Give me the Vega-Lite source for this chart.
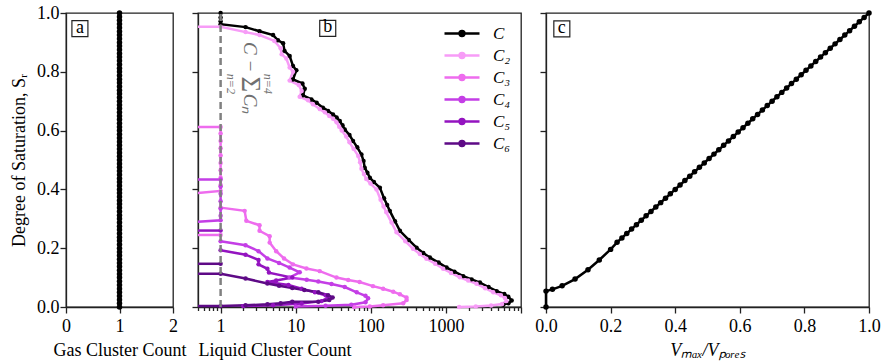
{
  "$schema": "https://vega.github.io/schema/vega-lite/v6.json",
  "padding": {"left": 9, "top": 3, "right": 0, "bottom": 3},
  "bounds": "flush",
  "resolve": {"legend": {"color": "independent"}},
  "config": {
    "font": "Liberation Serif",
    "view": {"stroke": "#222", "strokeWidth": 1.3},
    "concat": {"spacing": 25},
    "axis": {"grid": false, "domainColor": "#222", "domainWidth": 1.3, "tickColor": "#222", "tickWidth": 1.3, "tickSize": 6,
      "labelFont": "Liberation Serif", "labelFontSize": 18, "labelColor": "#000", "labelFlush": false, "labelOverlap": false, "labelBound": false,
      "titleFont": "Liberation Serif", "titleFontSize": 18, "titleFontWeight": "normal", "titleColor": "#000"}
  },
  "datasets": {
    "sa": [{"n":1,"y":0},{"n":1,"y":0.0125},{"n":1,"y":0.025},{"n":1,"y":0.0375},{"n":1,"y":0.05},{"n":1,"y":0.0625},{"n":1,"y":0.075},{"n":1,"y":0.0875},{"n":1,"y":0.1},{"n":1,"y":0.1125},{"n":1,"y":0.125},{"n":1,"y":0.1375},{"n":1,"y":0.15},{"n":1,"y":0.1625},{"n":1,"y":0.175},{"n":1,"y":0.1875},{"n":1,"y":0.2},{"n":1,"y":0.2125},{"n":1,"y":0.225},{"n":1,"y":0.2375},{"n":1,"y":0.25},{"n":1,"y":0.2625},{"n":1,"y":0.275},{"n":1,"y":0.2875},{"n":1,"y":0.3},{"n":1,"y":0.3125},{"n":1,"y":0.325},{"n":1,"y":0.3375},{"n":1,"y":0.35},{"n":1,"y":0.3625},{"n":1,"y":0.375},{"n":1,"y":0.3875},{"n":1,"y":0.4},{"n":1,"y":0.4125},{"n":1,"y":0.425},{"n":1,"y":0.4375},{"n":1,"y":0.45},{"n":1,"y":0.4625},{"n":1,"y":0.475},{"n":1,"y":0.4875},{"n":1,"y":0.5},{"n":1,"y":0.5125},{"n":1,"y":0.525},{"n":1,"y":0.5375},{"n":1,"y":0.55},{"n":1,"y":0.5625},{"n":1,"y":0.575},{"n":1,"y":0.5875},{"n":1,"y":0.6},{"n":1,"y":0.6125},{"n":1,"y":0.625},{"n":1,"y":0.6375},{"n":1,"y":0.65},{"n":1,"y":0.6625},{"n":1,"y":0.675},{"n":1,"y":0.6875},{"n":1,"y":0.7},{"n":1,"y":0.7125},{"n":1,"y":0.725},{"n":1,"y":0.7375},{"n":1,"y":0.75},{"n":1,"y":0.7625},{"n":1,"y":0.775},{"n":1,"y":0.7875},{"n":1,"y":0.8},{"n":1,"y":0.8125},{"n":1,"y":0.825},{"n":1,"y":0.8375},{"n":1,"y":0.85},{"n":1,"y":0.8625},{"n":1,"y":0.875},{"n":1,"y":0.8875},{"n":1,"y":0.9},{"n":1,"y":0.9125},{"n":1,"y":0.925},{"n":1,"y":0.9375},{"n":1,"y":0.95},{"n":1,"y":0.9625},{"n":1,"y":0.975},{"n":1,"y":0.9875},{"n":1,"y":1}],
    "sc": [{"v":0,"y":0},{"v":0,"y":0.054},{"v":0.02,"y":0.06},{"v":0.05,"y":0.072},{"v":0.09,"y":0.095},{"v":0.13,"y":0.127},{"v":0.165,"y":0.16},{"v":0.2,"y":0.196},{"v":0.22,"y":0.22},{"v":0.235,"y":0.235},{"v":0.25,"y":0.25},{"v":0.265,"y":0.265},{"v":0.28,"y":0.28},{"v":0.295,"y":0.295},{"v":0.31,"y":0.31},{"v":0.325,"y":0.325},{"v":0.34,"y":0.34},{"v":0.355,"y":0.355},{"v":0.37,"y":0.37},{"v":0.385,"y":0.385},{"v":0.4,"y":0.4},{"v":0.415,"y":0.415},{"v":0.43,"y":0.43},{"v":0.445,"y":0.445},{"v":0.46,"y":0.46},{"v":0.475,"y":0.475},{"v":0.49,"y":0.49},{"v":0.505,"y":0.505},{"v":0.52,"y":0.52},{"v":0.535,"y":0.535},{"v":0.55,"y":0.55},{"v":0.565,"y":0.565},{"v":0.58,"y":0.58},{"v":0.595,"y":0.595},{"v":0.61,"y":0.61},{"v":0.625,"y":0.625},{"v":0.64,"y":0.64},{"v":0.655,"y":0.655},{"v":0.67,"y":0.67},{"v":0.685,"y":0.685},{"v":0.7,"y":0.7},{"v":0.715,"y":0.715},{"v":0.73,"y":0.73},{"v":0.745,"y":0.745},{"v":0.76,"y":0.76},{"v":0.775,"y":0.775},{"v":0.79,"y":0.79},{"v":0.805,"y":0.805},{"v":0.82,"y":0.82},{"v":0.835,"y":0.835},{"v":0.85,"y":0.85},{"v":0.865,"y":0.865},{"v":0.88,"y":0.88},{"v":0.895,"y":0.895},{"v":0.91,"y":0.91},{"v":0.925,"y":0.925},{"v":0.94,"y":0.94},{"v":0.955,"y":0.955},{"v":0.97,"y":0.97},{"v":0.985,"y":0.985},{"v":1,"y":1}],
    "sb": [
      {"s":"C","g":"C","o":1,"x":1,"y":1},{"s":"C","g":"C","o":2,"x":1,"y":0.985},{"s":"C","g":"C","o":3,"x":1,"y":0.972},{"s":"C","g":"C","o":4,"x":1,"y":0.962},{"s":"C","g":"C","o":5,"x":2.15,"y":0.952},{"s":"C","g":"C","o":6,"x":3.3,"y":0.938},{"s":"C","g":"C","o":7,"x":5,"y":0.925},{"s":"C","g":"C","o":8,"x":5.8,"y":0.907},{"s":"C","g":"C","o":9,"x":6.8,"y":0.897},{"s":"C","g":"C","o":10,"x":7.1,"y":0.871},{"s":"C","g":"C","o":11,"x":8.3,"y":0.854},{"s":"C","g":"C","o":12,"x":9.2,"y":0.82},{"s":"C","g":"C","o":13,"x":10.2,"y":0.805},{"s":"C","g":"C","o":14,"x":9.2,"y":0.774},{"s":"C","g":"C","o":15,"x":12.3,"y":0.76},{"s":"C","g":"C","o":16,"x":13.2,"y":0.742},{"s":"C","g":"C","o":17,"x":12.5,"y":0.72},{"s":"C","g":"C","o":18,"x":16.2,"y":0.706},{"s":"C","g":"C","o":19,"x":19,"y":0.695},{"s":"C","g":"C","o":20,"x":23,"y":0.678},{"s":"C","g":"C","o":21,"x":27,"y":0.667},{"s":"C","g":"C","o":22,"x":31.4,"y":0.655},{"s":"C","g":"C","o":23,"x":35,"y":0.645},{"s":"C","g":"C","o":24,"x":38.6,"y":0.633},{"s":"C","g":"C","o":25,"x":42,"y":0.618},{"s":"C","g":"C","o":26,"x":45,"y":0.604},{"s":"C","g":"C","o":27,"x":52,"y":0.585},{"s":"C","g":"C","o":28,"x":58,"y":0.565},{"s":"C","g":"C","o":29,"x":66,"y":0.543},{"s":"C","g":"C","o":30,"x":75,"y":0.519},{"s":"C","g":"C","o":31,"x":80,"y":0.497},{"s":"C","g":"C","o":32,"x":83,"y":0.474},{"s":"C","g":"C","o":33,"x":90,"y":0.457},{"s":"C","g":"C","o":34,"x":97,"y":0.44},{"s":"C","g":"C","o":35,"x":110,"y":0.425},{"s":"C","g":"C","o":36,"x":132,"y":0.406},{"s":"C","g":"C","o":37,"x":150,"y":0.37},{"s":"C","g":"C","o":38,"x":165,"y":0.347},{"s":"C","g":"C","o":39,"x":179,"y":0.327},{"s":"C","g":"C","o":40,"x":210,"y":0.292},{"s":"C","g":"C","o":41,"x":244,"y":0.259},{"s":"C","g":"C","o":42,"x":320,"y":0.228},{"s":"C","g":"C","o":43,"x":406,"y":0.202},{"s":"C","g":"C","o":44,"x":500,"y":0.184},{"s":"C","g":"C","o":45,"x":612,"y":0.168},{"s":"C","g":"C","o":46,"x":800,"y":0.151},{"s":"C","g":"C","o":47,"x":1020,"y":0.134},{"s":"C","g":"C","o":48,"x":1300,"y":0.12},{"s":"C","g":"C","o":49,"x":1700,"y":0.105},{"s":"C","g":"C","o":50,"x":2200,"y":0.094},{"s":"C","g":"C","o":51,"x":2840,"y":0.083},{"s":"C","g":"C","o":52,"x":3700,"y":0.068},{"s":"C","g":"C","o":53,"x":4740,"y":0.054},{"s":"C","g":"C","o":54,"x":6000,"y":0.044},{"s":"C","g":"C","o":55,"x":6780,"y":0.035},{"s":"C","g":"C","o":56,"x":7510,"y":0.022},{"s":"C","g":"C","o":57,"x":6800,"y":0.013},{"s":"C","g":"C","o":58,"x":5800,"y":0.008},
      {"s":"C₂","g":"C2","o":101,"x":0.5,"y":0.953},{"s":"C₂","g":"C2","o":102,"x":1,"y":0.953},{"s":"C₂","g":"C2","o":103,"x":2.15,"y":0.935},{"s":"C₂","g":"C2","o":104,"x":3.3,"y":0.925},{"s":"C₂","g":"C2","o":105,"x":5.2,"y":0.905},{"s":"C₂","g":"C2","o":106,"x":6.3,"y":0.88},{"s":"C₂","g":"C2","o":107,"x":6.5,"y":0.86},{"s":"C₂","g":"C2","o":108,"x":7.5,"y":0.845},{"s":"C₂","g":"C2","o":109,"x":8.3,"y":0.815},{"s":"C₂","g":"C2","o":110,"x":9.2,"y":0.8},{"s":"C₂","g":"C2","o":111,"x":8.3,"y":0.77},{"s":"C₂","g":"C2","o":112,"x":11,"y":0.755},{"s":"C₂","g":"C2","o":113,"x":12,"y":0.735},{"s":"C₂","g":"C2","o":114,"x":11.3,"y":0.715},{"s":"C₂","g":"C2","o":115,"x":14.6,"y":0.703},{"s":"C₂","g":"C2","o":116,"x":17,"y":0.69},{"s":"C₂","g":"C2","o":117,"x":21,"y":0.673},{"s":"C₂","g":"C2","o":118,"x":24.5,"y":0.662},{"s":"C₂","g":"C2","o":119,"x":28,"y":0.65},{"s":"C₂","g":"C2","o":120,"x":31.5,"y":0.64},{"s":"C₂","g":"C2","o":121,"x":35,"y":0.628},{"s":"C₂","g":"C2","o":122,"x":38,"y":0.613},{"s":"C₂","g":"C2","o":123,"x":41,"y":0.6},{"s":"C₂","g":"C2","o":124,"x":47,"y":0.58},{"s":"C₂","g":"C2","o":125,"x":52,"y":0.56},{"s":"C₂","g":"C2","o":126,"x":59,"y":0.538},{"s":"C₂","g":"C2","o":127,"x":68,"y":0.514},{"s":"C₂","g":"C2","o":128,"x":72,"y":0.492},{"s":"C₂","g":"C2","o":129,"x":75,"y":0.47},{"s":"C₂","g":"C2","o":130,"x":81,"y":0.452},{"s":"C₂","g":"C2","o":131,"x":87,"y":0.435},{"s":"C₂","g":"C2","o":132,"x":99,"y":0.42},{"s":"C₂","g":"C2","o":133,"x":119,"y":0.4},{"s":"C₂","g":"C2","o":134,"x":135,"y":0.365},{"s":"C₂","g":"C2","o":135,"x":148,"y":0.342},{"s":"C₂","g":"C2","o":136,"x":161,"y":0.322},{"s":"C₂","g":"C2","o":137,"x":189,"y":0.287},{"s":"C₂","g":"C2","o":138,"x":220,"y":0.254},{"s":"C₂","g":"C2","o":139,"x":288,"y":0.224},{"s":"C₂","g":"C2","o":140,"x":365,"y":0.198},{"s":"C₂","g":"C2","o":141,"x":450,"y":0.18},{"s":"C₂","g":"C2","o":142,"x":550,"y":0.164},{"s":"C₂","g":"C2","o":143,"x":720,"y":0.147},{"s":"C₂","g":"C2","o":144,"x":920,"y":0.13},{"s":"C₂","g":"C2","o":145,"x":1170,"y":0.116},{"s":"C₂","g":"C2","o":146,"x":1530,"y":0.101},{"s":"C₂","g":"C2","o":147,"x":1980,"y":0.09},{"s":"C₂","g":"C2","o":148,"x":2560,"y":0.079},{"s":"C₂","g":"C2","o":149,"x":3330,"y":0.064},{"s":"C₂","g":"C2","o":150,"x":4270,"y":0.05},{"s":"C₂","g":"C2","o":151,"x":5400,"y":0.04},{"s":"C₂","g":"C2","o":152,"x":6100,"y":0.031},{"s":"C₂","g":"C2","o":153,"x":6400,"y":0.02},{"s":"C₂","g":"C2","o":154,"x":5600,"y":0.01},{"s":"C₂","g":"C2","o":155,"x":4000,"y":0.005},{"s":"C₂","g":"C2","o":156,"x":2500,"y":0.002},{"s":"C₂","g":"C2","o":157,"x":1500,"y":0},
      {"s":"C₃","g":"C3a","o":201,"x":0.5,"y":0.612},{"s":"C₃","g":"C3a","o":202,"x":1,"y":0.612},{"s":"C₃","g":"C3a","o":203,"x":1,"y":0.59},{"s":"C₃","g":"C3a","o":204,"x":1,"y":0.565},{"s":"C₃","g":"C3a","o":205,"x":1,"y":0.54},{"s":"C₃","g":"C3a","o":206,"x":1,"y":0.515},{"s":"C₃","g":"C3a","o":207,"x":1,"y":0.49},{"s":"C₃","g":"C3a","o":208,"x":1,"y":0.465},{"s":"C₃","g":"C3a","o":209,"x":1,"y":0.44},{"s":"C₃","g":"C3a","o":210,"x":1,"y":0.415},{"s":"C₃","g":"C3a","o":211,"x":1,"y":0.395},{"s":"C₃","g":"C3a","o":212,"x":0.5,"y":0.388},
      {"s":"C₃","g":"C3b","o":213,"x":0.5,"y":0.245},{"s":"C₃","g":"C3b","o":214,"x":1,"y":0.245},
      {"s":"C₃","g":"C3c","o":215,"x":1,"y":0.338},{"s":"C₃","g":"C3c","o":216,"x":2.09,"y":0.327},{"s":"C₃","g":"C3c","o":217,"x":2.2,"y":0.293},{"s":"C₃","g":"C3c","o":218,"x":3.3,"y":0.278},{"s":"C₃","g":"C3c","o":219,"x":3.3,"y":0.259},{"s":"C₃","g":"C3c","o":220,"x":4.5,"y":0.241},{"s":"C₃","g":"C3c","o":221,"x":4.5,"y":0.219},{"s":"C₃","g":"C3c","o":222,"x":5.5,"y":0.19},{"s":"C₃","g":"C3c","o":223,"x":7,"y":0.165},{"s":"C₃","g":"C3c","o":224,"x":9.2,"y":0.145},{"s":"C₃","g":"C3c","o":225,"x":13.9,"y":0.131},{"s":"C₃","g":"C3c","o":226,"x":20.9,"y":0.122},{"s":"C₃","g":"C3c","o":227,"x":34.9,"y":0.1},{"s":"C₃","g":"C3c","o":228,"x":50,"y":0.092},{"s":"C₃","g":"C3c","o":229,"x":71,"y":0.085},{"s":"C₃","g":"C3c","o":230,"x":107,"y":0.071},{"s":"C₃","g":"C3c","o":231,"x":146,"y":0.062},{"s":"C₃","g":"C3c","o":232,"x":199,"y":0.052},{"s":"C₃","g":"C3c","o":233,"x":244,"y":0.043},{"s":"C₃","g":"C3c","o":234,"x":299,"y":0.032},{"s":"C₃","g":"C3c","o":235,"x":300,"y":0.024},{"s":"C₃","g":"C3c","o":236,"x":270,"y":0.013},{"s":"C₃","g":"C3c","o":237,"x":146,"y":0.006},{"s":"C₃","g":"C3c","o":238,"x":97,"y":0.002},{"s":"C₃","g":"C3c","o":239,"x":60,"y":0},
      {"s":"C₄","g":"C4a","o":301,"x":0.5,"y":0.434},{"s":"C₄","g":"C4a","o":302,"x":1,"y":0.434},{"s":"C₄","g":"C4a","o":303,"x":1,"y":0.41},{"s":"C₄","g":"C4a","o":304,"x":1,"y":0.385},{"s":"C₄","g":"C4a","o":305,"x":1,"y":0.36},{"s":"C₄","g":"C4a","o":306,"x":1,"y":0.335},{"s":"C₄","g":"C4a","o":307,"x":1,"y":0.31},{"s":"C₄","g":"C4a","o":308,"x":1,"y":0.295},{"s":"C₄","g":"C4a","o":309,"x":0.5,"y":0.29},
      {"s":"C₄","g":"C4b","o":310,"x":1,"y":0.224},{"s":"C₄","g":"C4b","o":311,"x":2.15,"y":0.21},{"s":"C₄","g":"C4b","o":312,"x":3.2,"y":0.19},{"s":"C₄","g":"C4b","o":313,"x":4.2,"y":0.165},{"s":"C₄","g":"C4b","o":314,"x":6,"y":0.15},{"s":"C₄","g":"C4b","o":315,"x":8.3,"y":0.134},{"s":"C₄","g":"C4b","o":316,"x":11.3,"y":0.118},{"s":"C₄","g":"C4b","o":317,"x":8.3,"y":0.1},{"s":"C₄","g":"C4b","o":318,"x":14,"y":0.093},{"s":"C₄","g":"C4b","o":319,"x":20,"y":0.087},{"s":"C₄","g":"C4b","o":320,"x":30,"y":0.078},{"s":"C₄","g":"C4b","o":321,"x":45,"y":0.068},{"s":"C₄","g":"C4b","o":322,"x":65,"y":0.05},{"s":"C₄","g":"C4b","o":323,"x":85,"y":0.038},{"s":"C₄","g":"C4b","o":324,"x":92,"y":0.03},{"s":"C₄","g":"C4b","o":325,"x":85,"y":0.016},{"s":"C₄","g":"C4b","o":326,"x":55,"y":0.008},{"s":"C₄","g":"C4b","o":327,"x":25,"y":0.004},{"s":"C₄","g":"C4b","o":328,"x":10,"y":0.002},
      {"s":"C₅","g":"C5a","o":401,"x":0.5,"y":0.26},{"s":"C₅","g":"C5a","o":402,"x":1,"y":0.26},
      {"s":"C₅","g":"C5b","o":403,"x":1,"y":0.193},{"s":"C₅","g":"C5b","o":404,"x":2.15,"y":0.178},{"s":"C₅","g":"C5b","o":405,"x":3.2,"y":0.16},{"s":"C₅","g":"C5b","o":406,"x":3.2,"y":0.145},{"s":"C₅","g":"C5b","o":407,"x":4.2,"y":0.13},{"s":"C₅","g":"C5b","o":408,"x":4.4,"y":0.117},{"s":"C₅","g":"C5b","o":409,"x":9,"y":0.1},{"s":"C₅","g":"C5b","o":410,"x":5.5,"y":0.09},{"s":"C₅","g":"C5b","o":411,"x":4.2,"y":0.085},{"s":"C₅","g":"C5b","o":412,"x":8,"y":0.075},{"s":"C₅","g":"C5b","o":413,"x":12,"y":0.062},{"s":"C₅","g":"C5b","o":414,"x":18,"y":0.05},{"s":"C₅","g":"C5b","o":415,"x":25,"y":0.04},{"s":"C₅","g":"C5b","o":416,"x":27,"y":0.032},{"s":"C₅","g":"C5b","o":417,"x":22,"y":0.02},{"s":"C₅","g":"C5b","o":418,"x":12,"y":0.012},{"s":"C₅","g":"C5b","o":419,"x":5,"y":0.006},{"s":"C₅","g":"C5b","o":420,"x":2,"y":0.003},
      {"s":"C₆","g":"C6a","o":501,"x":0.5,"y":0.147},{"s":"C₆","g":"C6a","o":502,"x":1,"y":0.147},
      {"s":"C₆","g":"C6b","o":503,"x":0.5,"y":0.113},{"s":"C₆","g":"C6b","o":504,"x":1,"y":0.113},{"s":"C₆","g":"C6b","o":505,"x":2.15,"y":0.097},{"s":"C₆","g":"C6b","o":506,"x":4.2,"y":0.08},{"s":"C₆","g":"C6b","o":507,"x":6,"y":0.072},{"s":"C₆","g":"C6b","o":508,"x":9,"y":0.065},{"s":"C₆","g":"C6b","o":509,"x":13,"y":0.058},{"s":"C₆","g":"C6b","o":510,"x":20,"y":0.05},{"s":"C₆","g":"C6b","o":511,"x":27,"y":0.04},{"s":"C₆","g":"C6b","o":512,"x":31,"y":0.032},{"s":"C₆","g":"C6b","o":513,"x":28,"y":0.024},{"s":"C₆","g":"C6b","o":514,"x":20,"y":0.018},{"s":"C₆","g":"C6b","o":515,"x":9,"y":0.018},{"s":"C₆","g":"C6b","o":516,"x":6.3,"y":0.013},{"s":"C₆","g":"C6b","o":517,"x":4.2,"y":0.009},{"s":"C₆","g":"C6b","o":518,"x":2.15,"y":0.006},{"s":"C₆","g":"C6b","o":519,"x":1,"y":0.003},{"s":"C₆","g":"C6b","o":520,"x":0.5,"y":0.003}
    ]
  },
  "hconcat": [
    {
      "width": 107, "height": 294,
      "layer": [
        {"data": {"name": "sa"}, "mark": {"type": "line", "color": "#000", "strokeWidth": 2.5},
         "encoding": {
           "x": {"field": "n", "type": "quantitative", "scale": {"domain": [0, 2], "nice": false}, "axis": {"values": [0, 1, 2], "labelExpr": "format(datum.value, 'd')", "labelOverlap": false, "title": "Gas Cluster Count", "labelPadding": 4, "titlePadding": 6}},
           "y": {"field": "y", "type": "quantitative", "scale": {"domain": [0, 1], "nice": false}, "axis": {"values": [0, 0.2, 0.4, 0.6, 0.8, 1], "format": ".1f", "title": "Degree of Saturation, Sᵣ", "labelPadding": 1, "titlePadding": 8}},
           "order": {"field": "y"}}},
        {"data": {"name": "sa"}, "mark": {"type": "point", "filled": true, "color": "#000", "size": 30, "opacity": 1},
         "encoding": {"x": {"field": "n", "type": "quantitative"}, "y": {"field": "y", "type": "quantitative"}}},
        {"data": {"values": [{}]}, "mark": {"type": "point", "shape": "square", "filled": true, "fill": "#fff", "stroke": "#222", "strokeWidth": 1.2, "size": 256, "opacity": 1},
         "encoding": {"x": {"datum": 0.26, "type": "quantitative"}, "y": {"datum": 0.947, "type": "quantitative"}}},
        {"data": {"values": [{}]}, "mark": {"type": "text", "text": "a", "fontSize": 18, "font": "Liberation Serif", "baseline": "middle", "align": "center", "dy": -1},
         "encoding": {"x": {"datum": 0.26, "type": "quantitative"}, "y": {"datum": 0.947, "type": "quantitative"}}}
      ]
    },
    {
      "width": 323, "height": 294,
      "layer": [
        {"data": {"name": "sb"}, "mark": {"type": "line", "strokeWidth": 2.5},
         "encoding": {
           "x": {"field": "x", "type": "quantitative", "scale": {"type": "log", "domain": [0.5, 10000], "nice": false},
             "axis": {"values": [0.5,0.6,0.7,0.8,0.9,1,2,3,4,5,6,7,8,9,10,20,30,40,50,60,70,80,90,100,200,300,400,500,600,700,800,900,1000,2000,3000,4000,5000,6000,7000,8000,9000,10000],
               "labelExpr": "datum.value==1||datum.value==10||datum.value==100||datum.value==1000 ? format(datum.value,'d') : ''",
               "tickSize": {"condition": {"test": "datum.value==1||datum.value==10||datum.value==100||datum.value==1000||datum.value==10000", "value": 6}, "value": 3.5},
               "title": "Liquid Cluster Count", "titleAnchor": "start", "labelPadding": 4, "titlePadding": 6}},
           "y": {"field": "y", "type": "quantitative", "scale": {"domain": [0, 1], "nice": false}, "axis": {"values": [0, 0.2, 0.4, 0.6, 0.8, 1], "labels": false, "title": null}},
           "color": {"field": "s", "type": "nominal",
             "scale": {"domain": ["C", "C₂", "C₃", "C₄", "C₅", "C₆"], "range": ["#000000", "#f79cf7", "#ee6cee", "#c43ee6", "#9414c0", "#5e0a86"]},
             "legend": {"orient": "top-right", "offset": 10, "padding": 0, "title": null, "labelFont": "Liberation Serif", "labelFontStyle": "italic", "labelFontSize": 17, "labelOffset": 12,
               "clipHeight": 21, "rowPadding": 1,
               "symbolType": "M-1,0L1,0M-0.14,0A0.14,0.14,0,1,1,0.14,0A0.14,0.14,0,1,1,-0.14,0", "symbolSize": 1225, "symbolStrokeWidth": 2.5}},
           "detail": {"field": "g"},
           "order": {"field": "o"}}},
        {"data": {"name": "sb"}, "transform": [{"filter": "datum.x > 0.5"}], "mark": {"type": "point", "filled": true, "size": 20, "opacity": 1},
         "encoding": {"x": {"field": "x", "type": "quantitative"}, "y": {"field": "y", "type": "quantitative"}, "color": {"field": "s", "type": "nominal"}}},
        {"data": {"values": [{"x": 1, "y": 0}, {"x": 1, "y": 1}]}, "mark": {"type": "line", "color": "#808080", "strokeWidth": 2.5, "strokeDash": [7, 4]},
         "encoding": {"x": {"field": "x", "type": "quantitative"}, "y": {"field": "y", "type": "quantitative"}}},
        {"data": {"values": [{}]}, "mark": {"type": "text", "text": "C −", "fontSize": 19, "fontStyle": "italic", "font": "Liberation Serif", "angle": 90, "align": "center", "baseline": "middle", "color": "#707070"},
         "encoding": {"x": {"datum": 2.44, "type": "quantitative"}, "y": {"datum": 0.85, "type": "quantitative"}}},
        {"data": {"values": [{}]}, "mark": {"type": "text", "text": "Σ", "fontSize": 27, "font": "Liberation Serif", "angle": 90, "align": "center", "baseline": "middle", "color": "#707070"},
         "encoding": {"x": {"datum": 2.44, "type": "quantitative"}, "y": {"datum": 0.757, "type": "quantitative"}}},
        {"data": {"values": [{}]}, "mark": {"type": "text", "text": "Cₙ", "fontSize": 19, "fontStyle": "italic", "font": "Liberation Serif", "angle": 90, "align": "center", "baseline": "middle", "color": "#707070"},
         "encoding": {"x": {"datum": 2.44, "type": "quantitative"}, "y": {"datum": 0.69, "type": "quantitative"}}},
        {"data": {"values": [{}]}, "mark": {"type": "text", "text": "n=4", "fontSize": 12, "fontStyle": "italic", "font": "Liberation Serif", "angle": 90, "align": "center", "baseline": "middle", "color": "#707070"},
         "encoding": {"x": {"datum": 4.3, "type": "quantitative"}, "y": {"datum": 0.759, "type": "quantitative"}}},
        {"data": {"values": [{}]}, "mark": {"type": "text", "text": "n=2", "fontSize": 12, "fontStyle": "italic", "font": "Liberation Serif", "angle": 90, "align": "center", "baseline": "middle", "color": "#707070"},
         "encoding": {"x": {"datum": 1.38, "type": "quantitative"}, "y": {"datum": 0.759, "type": "quantitative"}}},
        {"data": {"values": [{}]}, "mark": {"type": "point", "shape": "square", "filled": true, "fill": "#fff", "stroke": "#222", "strokeWidth": 1.2, "size": 256, "opacity": 1},
         "encoding": {"x": {"datum": 26.7, "type": "quantitative"}, "y": {"datum": 0.948, "type": "quantitative"}}},
        {"data": {"values": [{}]}, "mark": {"type": "text", "text": "b", "fontSize": 18, "font": "Liberation Serif", "baseline": "middle", "align": "center", "dy": -1},
         "encoding": {"x": {"datum": 26.7, "type": "quantitative"}, "y": {"datum": 0.948, "type": "quantitative"}}}
      ]
    },
    {
      "width": 323, "height": 294,
      "layer": [
        {"data": {"name": "sc"}, "mark": {"type": "line", "color": "#000", "strokeWidth": 2.5},
         "encoding": {
           "x": {"field": "v", "type": "quantitative", "scale": {"domain": [0, 1], "nice": false}, "axis": {"values": [0, 0.2, 0.4, 0.6, 0.8, 1], "format": ".1f", "title": "Vₘₐₓ/Vₚₒᵣₑₛ", "titleFontStyle": "italic", "labelPadding": 4, "titlePadding": 6}},
           "y": {"field": "y", "type": "quantitative", "scale": {"domain": [0, 1], "nice": false}, "axis": {"values": [0, 0.2, 0.4, 0.6, 0.8, 1], "labels": false, "title": null}},
           "order": {"field": "y"}}},
        {"data": {"name": "sc"}, "mark": {"type": "point", "filled": true, "color": "#000", "size": 30, "opacity": 1},
         "encoding": {"x": {"field": "v", "type": "quantitative"}, "y": {"field": "y", "type": "quantitative"}}},
        {"data": {"values": [{}]}, "mark": {"type": "point", "shape": "square", "filled": true, "fill": "#fff", "stroke": "#222", "strokeWidth": 1.2, "size": 256, "opacity": 1},
         "encoding": {"x": {"datum": 0.049, "type": "quantitative"}, "y": {"datum": 0.946, "type": "quantitative"}}},
        {"data": {"values": [{}]}, "mark": {"type": "text", "text": "c", "fontSize": 18, "font": "Liberation Serif", "baseline": "middle", "align": "center", "dy": -1},
         "encoding": {"x": {"datum": 0.049, "type": "quantitative"}, "y": {"datum": 0.946, "type": "quantitative"}}}
      ]
    }
  ]
}
